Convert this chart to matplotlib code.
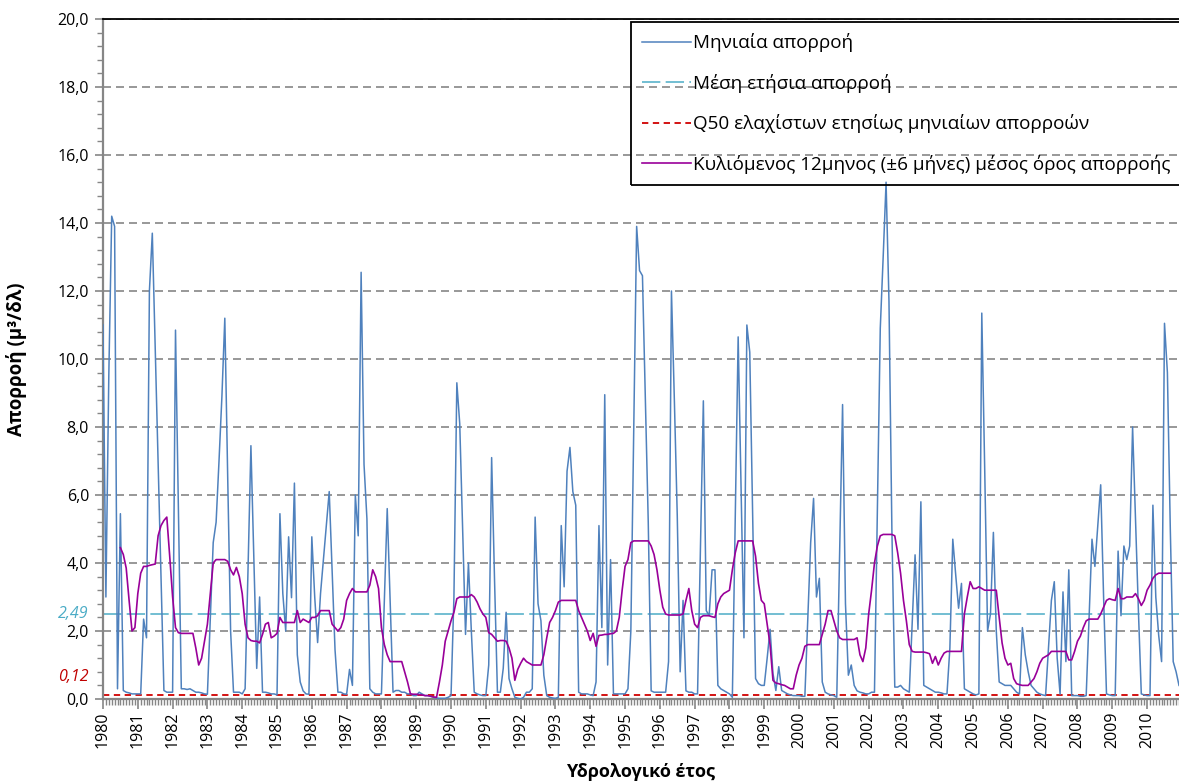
import matplotlib
matplotlib.use('Agg')
import matplotlib.pyplot as plt
import matplotlib.transforms as mtransforms
import numpy as np
from matplotlib.ticker import MultipleLocator, FixedLocator, FuncFormatter

plt.rcParams['font.family'] = ['Open Sans', 'DejaVu Sans']

years = list(range(1980, 2011))
mean_annual = 2.49
q50_min = 0.12

# monthly runoff (m3/s), one row per hydrological year
runoff_1980s = [
    11.0, 3.0, 9.5, 14.2, 13.9, 0.3, 5.45, 0.25, 0.2, 0.18, 0.15, 0.15,
    0.15, 0.15, 2.35, 1.8, 12.0, 13.7, 10.3, 6.9, 3.6, 0.25, 0.2, 0.2,
    0.2, 10.85, 5.5, 0.3, 0.3, 0.28, 0.3, 0.25, 0.2, 0.2, 0.18, 0.15,
    0.14, 2.4, 4.6, 5.2, 7.0, 8.9, 11.2, 6.5, 2.0, 0.2, 0.2, 0.2,
    0.15, 0.3, 3.8, 7.45, 4.2, 0.9, 3.0, 0.2, 0.2, 0.18, 0.15, 0.15,
    0.12, 5.45, 3.1, 2.0, 4.77, 2.98, 6.35, 1.3, 0.5, 0.24, 0.15, 0.14,
    4.77, 3.0, 1.66, 3.1, 4.1, 5.1, 6.1, 3.8, 1.45, 0.2, 0.2, 0.15,
    0.14, 0.87, 0.4, 6.0, 4.8, 12.55, 6.9, 5.3, 0.3, 0.2, 0.15, 0.15,
    0.15, 2.9, 5.6, 2.9, 0.2, 0.25, 0.25, 0.2, 0.2, 0.15, 0.15, 0.1,
    0.1, 0.2, 0.15, 0.1, 0.1, 0.08, 0.05, 0.03, 0.02, 0.02, 0.02, 0.05,
]
runoff_1990s = [
    0.1, 3.0, 9.3, 8.1, 5.0, 1.9, 4.0, 2.0, 0.2, 0.15, 0.12, 0.1,
    0.1, 1.0, 7.1, 3.5, 0.2, 0.2, 0.9, 2.55, 0.6, 0.3, 0.05, 0.02,
    0.0, 0.05, 0.2, 0.2, 0.3, 5.35, 2.8, 2.3, 0.7, 0.1, 0.05, 0.03,
    0.02, 0.05, 5.1, 3.3, 6.7, 7.4, 6.1, 5.7, 0.2, 0.15, 0.15, 0.15,
    0.12, 0.1, 0.5, 5.1, 2.1, 8.95, 1.0, 4.1, 0.15, 0.15, 0.15, 0.15,
    0.15, 0.3, 2.0, 7.9, 13.9, 12.6, 12.45, 8.8, 5.2, 0.24, 0.2, 0.2,
    0.2, 0.2, 0.2, 1.1, 12.0, 8.8, 5.4, 0.8, 2.9, 0.24, 0.2, 0.2,
    0.15, 0.15, 4.5, 8.77, 2.6, 2.45, 3.8, 3.8, 0.4, 0.3, 0.25, 0.2,
    0.15, 0.05, 5.3, 10.65, 6.2, 1.8, 11.0, 10.2, 5.4, 0.6, 0.45, 0.4,
    0.4, 1.2, 2.05, 0.75, 0.25, 0.95, 0.25, 0.2, 0.15, 0.12, 0.1, 0.1,
]
runoff_2000s = [
    0.1, 0.08, 0.08, 2.3, 4.6, 5.9, 3.0, 3.55, 0.5, 0.2, 0.15, 0.12,
    0.1, 0.05, 4.3, 8.66, 2.8, 0.7, 1.0, 0.4, 0.24, 0.2, 0.18, 0.15,
    0.15, 0.2, 0.2, 5.5, 10.9, 13.0, 15.2, 11.7, 5.0, 0.35, 0.35, 0.4,
    0.3, 0.25, 0.2, 2.2, 4.24, 2.05, 5.8, 0.4, 0.35, 0.3, 0.25, 0.2,
    0.2, 0.18, 0.15, 0.15, 1.5, 4.7, 3.66, 2.67, 3.4, 0.3, 0.25, 0.2,
    0.15, 0.12, 0.15, 11.35, 6.8, 2.0, 2.5, 4.9, 2.0, 0.5, 0.45, 0.4,
    0.4, 0.4, 0.3, 0.2, 0.15, 2.1, 1.3, 0.8, 0.4, 0.3, 0.2, 0.15,
    0.12, 0.1, 1.5, 2.9, 3.45, 1.2, 0.14, 3.15, 1.1, 3.8, 0.1, 0.1,
    0.1, 0.08, 0.08, 0.1, 2.4, 4.7, 3.9, 5.1, 6.3, 3.0, 0.15, 0.12,
    0.1, 0.1, 4.35, 2.45, 4.5, 4.1, 4.5, 8.0, 5.3, 2.6, 0.15, 0.12,
    0.1, 0.1, 5.7, 3.0, 1.87, 1.1, 11.05, 9.6, 5.0, 1.1, 0.8, 0.4,
]

# 12-month (+-6) moving average
nan = np.nan
rolling_1980s = [
    nan, nan, nan, nan, nan, nan, 4.45, 4.25, 3.85, 2.9, 2.0, 2.1,
    3.1, 3.7, 3.9, 3.9, 3.93, 3.95, 3.97, 4.8, 5.1, 5.25, 5.35, 4.2,
    3.0, 2.1, 1.95, 1.93, 1.93, 1.93, 1.93, 1.93, 1.5, 1.0, 1.2, 1.7,
    2.2, 3.1, 4.0, 4.1, 4.1, 4.1, 4.1, 4.05, 3.8, 3.65, 3.87, 3.6,
    3.1, 2.2, 1.8, 1.72, 1.7, 1.7, 1.65, 1.9, 2.2, 2.25, 1.8, 1.85,
    1.93, 2.4, 2.25, 2.25, 2.25, 2.25, 2.25, 2.6, 2.25, 2.35, 2.3, 2.25,
    2.4, 2.4, 2.45, 2.6, 2.6, 2.6, 2.6, 2.2, 2.1, 2.0, 2.1, 2.35,
    2.9, 3.1, 3.25, 3.15, 3.15, 3.15, 3.15, 3.15, 3.35, 3.8, 3.6, 3.25,
    2.1, 1.6, 1.3, 1.1, 1.1, 1.1, 1.1, 1.1, 0.8, 0.5, 0.15, 0.14,
    0.14, 0.13, 0.12, 0.1, 0.1, 0.08, 0.06, 0.05, 0.5, 1.0, 1.7, 2.0,
]
rolling_1990s = [
    2.3, 2.55, 2.95, 3.0, 3.0, 3.0, 3.0, 3.07, 3.0, 2.85, 2.65, 2.5,
    2.4, 1.95, 1.9, 1.8, 1.7, 1.72, 1.72, 1.7, 1.5, 1.2, 0.55, 0.87,
    1.05, 1.2, 1.1, 1.05, 1.0, 1.0, 1.0, 1.0, 1.3, 1.8, 2.25, 2.4,
    2.6, 2.85, 2.9, 2.9, 2.9, 2.9, 2.9, 2.9, 2.6, 2.4, 2.2, 2.0,
    1.72, 1.93, 1.55, 1.87, 1.88, 1.9, 1.9, 1.92, 1.93, 2.0, 2.4, 3.2,
    3.9, 4.1, 4.6, 4.65, 4.65, 4.65, 4.65, 4.65, 4.65, 4.5, 4.25, 3.8,
    3.2, 2.7, 2.5, 2.47, 2.47, 2.47, 2.47, 2.47, 2.5, 2.9, 3.25, 2.6,
    2.2, 2.1, 2.4, 2.45, 2.45, 2.45, 2.42, 2.4, 2.8, 3.0, 3.1, 3.15,
    3.2, 3.8, 4.3, 4.65, 4.65, 4.65, 4.65, 4.65, 4.65, 4.2, 3.4, 2.9,
    2.8, 2.2, 1.6, 0.55, 0.47, 0.45, 0.42, 0.4, 0.35, 0.3, 0.3, 0.7,
]
rolling_2000s = [
    1.0, 1.2, 1.55, 1.6, 1.6, 1.6, 1.6, 1.6, 1.9, 2.2, 2.6, 2.6,
    2.3, 2.0, 1.8, 1.75, 1.75, 1.75, 1.75, 1.75, 1.8, 1.3, 1.1, 1.5,
    2.5, 3.2, 4.0, 4.5, 4.8, 4.84, 4.84, 4.84, 4.84, 4.8, 4.3, 3.7,
    2.9, 2.3, 1.6, 1.4, 1.38, 1.38, 1.38, 1.38, 1.36, 1.33, 1.05, 1.25,
    1.0, 1.2, 1.35, 1.4, 1.4, 1.4, 1.4, 1.4, 1.4, 2.5, 3.0, 3.45,
    3.25, 3.25, 3.3, 3.25, 3.2, 3.2, 3.2, 3.2, 3.2, 2.4, 1.65, 1.2,
    1.0, 1.05, 0.6, 0.45, 0.42, 0.4, 0.4, 0.4, 0.5, 0.6, 0.8, 1.05,
    1.2, 1.25, 1.3, 1.4, 1.4, 1.4, 1.4, 1.4, 1.4, 1.15, 1.15, 1.4,
    1.7, 1.85, 2.1, 2.3, 2.35, 2.35, 2.35, 2.35, 2.5, 2.7, 2.9, 2.95,
    2.92, 2.9, 3.25, 2.95, 2.95, 3.0, 3.0, 3.0, 3.1, 2.95, 2.75, 2.9,
    3.2, 3.35, 3.55, 3.65, 3.7, 3.7, 3.7, 3.7, 3.7, nan, nan, nan,
]

monthly = np.array(runoff_1980s + runoff_1990s + runoff_2000s)
rolling = np.array(rolling_1980s + rolling_1990s + rolling_2000s)
months = np.arange(len(monthly))

W, H = 1179, 782
fig = plt.figure(figsize=(W / 100, H / 100), dpi=100)
ax = fig.add_axes([103 / W, 83 / H, 1 - 103 / W, 680 / H])

grey = '#868686'
ax.yaxis.grid(True, which='major', color=grey, lw=1.2, dashes=(4.8, 3))
ax.set_axisbelow(True)

l_blue, = ax.plot(months, monthly, color='#4F81BD', lw=1.1, zorder=3,
                  label='Μηνιαία απορροή')
l_mean = ax.axhline(mean_annual, color='#4BACC6', lw=1.1, dashes=(12, 3.5),
                    zorder=2, label='Μέση ετήσια απορροή')
l_q50 = ax.axhline(q50_min, color='#D00000', lw=1.3, dashes=(3.5, 2.5),
                   zorder=2, label='Q50 ελαχίστων ετησίως μηνιαίων απορροών')
l_roll, = ax.plot(months, rolling, color='#990099', lw=1.2, zorder=4,
                  label='Κυλιόμενος 12μηνος (±6 μήνες) μέσος όρος απορροής')

ax.set_xlim(0, len(monthly) - 1)
ax.set_ylim(0, 20)

ax.xaxis.set_major_locator(FixedLocator(np.arange(len(years)) * 12))
ax.set_xticklabels([str(y) for y in years], rotation=90)
ax.xaxis.set_minor_locator(MultipleLocator(1))
ax.yaxis.set_major_locator(MultipleLocator(2))
ax.yaxis.set_minor_locator(MultipleLocator(0.4))
ax.yaxis.set_major_formatter(FuncFormatter(lambda v, p: f'{v:.1f}'.replace('.', ',')))

ax.tick_params(axis='both', which='major', labelsize=11.5, color=grey, width=1.2)
ax.tick_params(axis='x', which='major', length=7, pad=2)
ax.tick_params(axis='x', which='minor', length=4, color=grey, width=1)
ax.tick_params(axis='y', which='major', length=6, pad=4)
ax.tick_params(axis='y', which='minor', length=4, color=grey, width=1)

for s in ['left', 'bottom']:
    ax.spines[s].set_color(grey)
    ax.spines[s].set_linewidth(1.6)
ax.spines['right'].set_visible(False)
ax.spines['top'].set_color('black')
ax.spines['top'].set_linewidth(1.3)

# value labels for the reference lines
trans = mtransforms.blended_transform_factory(ax.transAxes, ax.transData)
ax.text(-0.0135, mean_annual, '2,49', transform=trans, ha='right', va='center',
        color='#4BACC6', style='italic', fontsize=11.5)
ax.text(-0.0135, 0.65, '0,12', transform=trans, ha='right', va='center',
        color='#C00000', style='italic', fontsize=11.5)

ax.set_ylabel('Απορροή (μ³/δλ)', fontsize=13.5, fontweight='bold')
ax.set_xlabel('Υδρολογικό έτος', fontsize=13, fontweight='bold')
ax.yaxis.set_label_coords(-0.0706, 0.5)
ax.xaxis.set_label_coords(0.5, -0.094)

leg = fig.legend(handles=[l_blue, l_mean, l_q50, l_roll], loc='upper left',
                 bbox_to_anchor=(631 / W, 1 - 22 / H), fontsize=13.6,
                 handlelength=2.55, handletextpad=0.12, labelspacing=1.14,
                 borderpad=0.6, borderaxespad=0, fancybox=False)
frame = leg.get_frame()
frame.set_facecolor('none')
frame.set_edgecolor('black')
frame.set_linewidth(1.3)
frame.set_alpha(None)

fig.savefig('out.png', dpi=100)
